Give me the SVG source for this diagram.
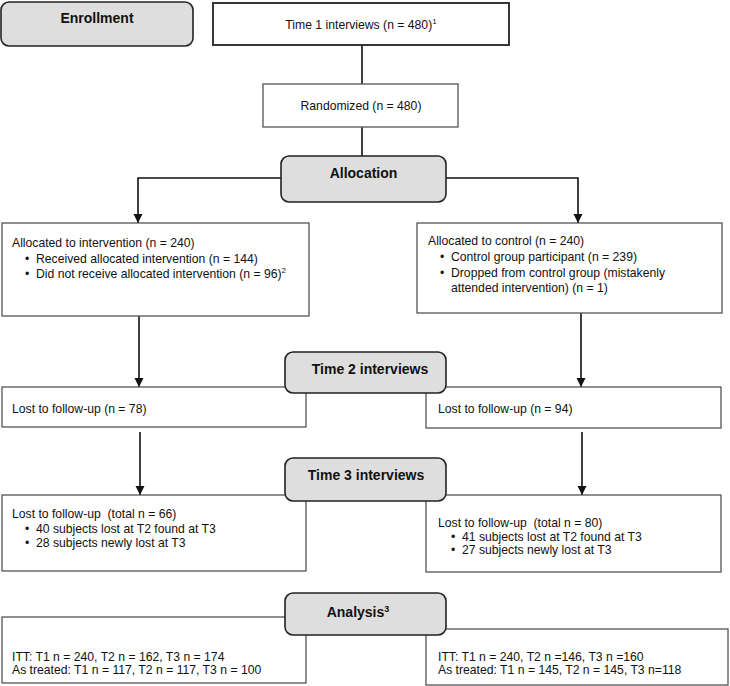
<svg xmlns="http://www.w3.org/2000/svg" width="730" height="686" viewBox="0 0 730 686">
<defs>
<style>
.box{fill:#fff;stroke:#555;stroke-width:1.3}
.hdr{fill:#dedede;stroke:#222;stroke-width:1.6}
.t{font-family:"Liberation Sans",Arial,sans-serif;font-size:12.2px;fill:#111}
.b{font-family:"Liberation Sans",Arial,sans-serif;font-size:14px;font-weight:bold;fill:#111}
.c{fill:none;stroke:#111;stroke-width:1.6}
</style>
<marker id="ah" markerUnits="userSpaceOnUse" markerWidth="10" markerHeight="10" refX="9" refY="4.5" orient="auto">
<path d="M0,0 L9,4.5 L0,9 z" fill="#111"/>
</marker>
</defs>
<rect width="730" height="686" fill="#fff"/>

<g id="connectors">
<path class="c" d="M362,45 V84"/>
<path class="c" d="M362,127 V156"/>
<path class="c" d="M281,178 H138 V223" marker-end="url(#ah)"/>
<path class="c" d="M446,178 H578 V223" marker-end="url(#ah)"/>
<path class="c" d="M139,316 V387" marker-end="url(#ah)"/>
<path class="c" d="M581,313 V387" marker-end="url(#ah)"/>
<path class="c" d="M140,432 V495" marker-end="url(#ah)"/>
<path class="c" d="M582,432 V495" marker-end="url(#ah)"/>
</g>

<g id="enrollment">
<rect class="hdr" x="1" y="2" width="192" height="44" rx="8"/>
<text class="b" x="97" y="23" text-anchor="middle">Enrollment</text>
</g>

<g id="time1">
<rect x="213" y="3" width="296" height="42" fill="#fff" stroke="#222" stroke-width="1.8"/>
<text class="t" x="361" y="29" text-anchor="middle">Time 1 interviews (n = 480)<tspan font-size="8" dy="-5">1</tspan></text>
</g>

<g id="randomized">
<rect class="box" x="263" y="84" width="195" height="43"/>
<text class="t" x="361" y="110" text-anchor="middle">Randomized (n = 480)</text>
</g>

<g id="allocation">
<rect class="hdr" x="281" y="156" width="165" height="46" rx="8"/>
<text class="b" x="363.5" y="178" text-anchor="middle">Allocation</text>
</g>

<g id="intervention">
<rect class="box" x="2" y="223" width="307" height="93"/>
<text class="t" x="12" y="247">Allocated to intervention (n = 240)</text>
<text class="t" x="25" y="263">•</text>
<text class="t" x="36" y="263">Received allocated intervention (n = 144)</text>
<text class="t" x="25" y="278">•</text>
<text class="t" x="36" y="278">Did not receive allocated intervention (n = 96)<tspan font-size="8" dy="-5">2</tspan></text>
</g>

<g id="control">
<rect class="box" x="417" y="223" width="305" height="90"/>
<text class="t" x="428" y="245">Allocated to control (n = 240)</text>
<text class="t" x="440" y="261">•</text>
<text class="t" x="451" y="261">Control group participant (n = 239)</text>
<text class="t" x="440" y="277">•</text>
<text class="t" x="451" y="277">Dropped from control group (mistakenly</text>
<text class="t" x="451" y="292">attended intervention) (n = 1)</text>
</g>

<g id="lost-t2-left">
<rect class="box" x="2" y="387" width="304" height="40"/>
<text class="t" x="12" y="413">Lost to follow-up (n = 78)</text>
</g>

<g id="lost-t2-right">
<rect class="box" x="426" y="387" width="295" height="41"/>
<text class="t" x="438" y="413">Lost to follow-up (n = 94)</text>
</g>

<g id="time2">
<rect class="hdr" x="285" y="352" width="161" height="41" rx="8"/>
<text class="b" x="370" y="374" text-anchor="middle">Time 2 interviews</text>
</g>

<g id="lost-t3-left">
<rect class="box" x="2" y="495" width="304" height="76"/>
<text class="t" x="12" y="518" xml:space="preserve">Lost to follow-up  (total n = 66)</text>
<text class="t" x="25" y="533">•</text>
<text class="t" x="36" y="533">40 subjects lost at T2 found at T3</text>
<text class="t" x="25" y="547">•</text>
<text class="t" x="36" y="547">28 subjects newly lost at T3</text>
</g>

<g id="lost-t3-right">
<rect class="box" x="426" y="495" width="295" height="77"/>
<text class="t" x="438" y="527" xml:space="preserve">Lost to follow-up  (total n = 80)</text>
<text class="t" x="451" y="541">•</text>
<text class="t" x="462" y="541">41 subjects lost at T2 found at T3</text>
<text class="t" x="451" y="554">•</text>
<text class="t" x="462" y="554">27 subjects newly lost at T3</text>
</g>

<g id="time3">
<rect class="hdr" x="285" y="458" width="161" height="43" rx="8"/>
<text class="b" x="366" y="480" text-anchor="middle">Time 3 interviews</text>
</g>

<g id="analysis-left">
<rect class="box" x="2" y="617" width="304" height="66"/>
<text class="t" x="12" y="661">ITT: T1 n = 240, T2 n = 162, T3 n = 174</text>
<text class="t" x="12" y="674">As treated: T1 n = 117, T2 n = 117, T3 n = 100</text>
</g>

<g id="analysis-right">
<rect class="box" x="426" y="629" width="302" height="56"/>
<text class="t" x="438" y="661">ITT: T1 n = 240, T2 n =146, T3 n =160</text>
<text class="t" x="438" y="674">As treated: T1 n = 145, T2 n = 145, T3 n=118</text>
</g>

<g id="analysis">
<rect class="hdr" x="285" y="593" width="161" height="42" rx="8"/>
<text class="b" x="358" y="617" text-anchor="middle">Analysis<tspan font-size="9" dy="-5">3</tspan></text>
</g>
</svg>
